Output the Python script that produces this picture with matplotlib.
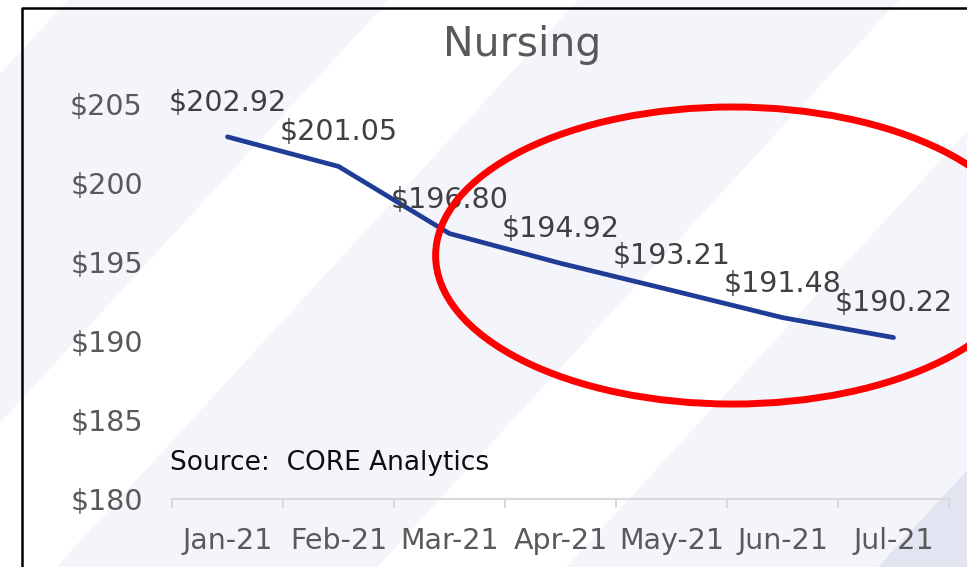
import numpy as np
import matplotlib.pyplot as plt
from matplotlib.patches import Ellipse, Polygon
from matplotlib.ticker import FuncFormatter

# chart data
months = ["Jan-21", "Feb-21", "Mar-21", "Apr-21", "May-21", "Jun-21", "Jul-21"]
costs = [202.92, 201.05, 196.80, 194.92, 193.21, 191.48, 190.22]
y_ticks = [180, 185, 190, 195, 200, 205]

plt.rcParams['font.family'] = ['DejaVu Sans']

W, H = 967, 567
fig = plt.figure(figsize=(W / 100, H / 100), dpi=100)

# striped background, drawn in pixel coordinates
bg = fig.add_axes([0, 0, 1, 1], zorder=-5)
bg.set_xlim(0, W)
bg.set_ylim(H, 0)
bg.axis('off')
bg.add_patch(Polygon([(0, 0), (W, 0), (W, H), (0, H)], closed=True,
                     facecolor='#f4f5fa', edgecolor='none'))
slope = 0.92
for k in range(-1, 3):
    u1, u2 = 389 + 510 * k, 578 + 510 * k
    bg.add_patch(Polygon([(u1, 0), (u2, 0), (u2 - slope * H, H), (u1 - slope * H, H)],
                         closed=True, facecolor='white', edgecolor='none'))
bg.add_patch(Polygon([(1400, 0), (3000, 0), (3000, H), (1400 - slope * H, H)],
                     closed=True, facecolor='#e2e5f1', edgecolor='none'))
# frame on the left and top
bg.plot([22, 22, W], [H, 8, 8], color='black', lw=1.8, solid_capstyle='butt')

ax = fig.add_axes([172 / W, 1 - 499 / H, (949 - 172) / W, (499 - 104) / H])
ax.set_facecolor('none')

x = np.arange(len(months))
ax.plot(x, costs, color='#1f3c96', lw=3.4, solid_capstyle='round', zorder=3)

for xi, v in zip(x, costs):
    ax.annotate(f"${v:.2f}", (xi, v), xytext=(0, 24.5), textcoords='offset points',
                ha='center', va='center', fontsize=20.5, color='#404040', zorder=4)

ax.set_xlim(-0.5, len(months) - 0.5)
ax.set_ylim(180, 205)
ax.set_xticks(x)
ax.set_xticklabels(months)
ax.set_xticks(np.arange(-0.5, len(months), 1), minor=True)
ax.set_yticks(y_ticks)
ax.yaxis.set_major_formatter(FuncFormatter(lambda v, p: f"${v:.0f}"))

ax.tick_params(axis='x', which='major', length=0, pad=20, labelsize=20.5, labelcolor='#595959')
ax.tick_params(axis='x', which='minor', length=6.5, width=1.5, color='#d9d9d9')
ax.tick_params(axis='y', length=0, pad=21, labelsize=20.5, labelcolor='#595959')

for s in ['left', 'right', 'top']:
    ax.spines[s].set_visible(False)
ax.spines['bottom'].set_color('#d9d9d9')
ax.spines['bottom'].set_linewidth(1.5)

# red highlight ellipse
ax.add_patch(Ellipse((4.55, 195.41), 5.35, 18.8, fill=False, edgecolor='#ff0000',
                     lw=5, clip_on=False, zorder=6))

fig.text(522 / W, 1 - 45 / H, "Nursing", ha='center', va='center',
         fontsize=29.5, color='#595959')
fig.text(170 / W, 1 - 463 / H, "Source:  CORE Analytics", ha='left', va='center',
         fontsize=19, color='#0d0d0d')

fig.savefig('out.png', dpi=100)
